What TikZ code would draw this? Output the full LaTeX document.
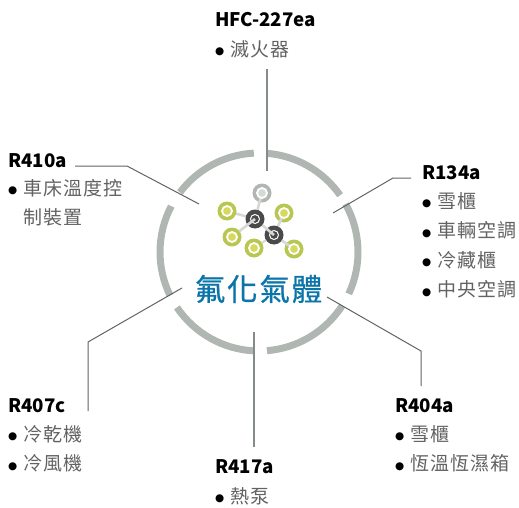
\documentclass[tikz,border=0pt]{standalone}
\usepackage{fontspec}
\setmainfont{Noto Sans CJK TC}
\newfontfamily\listfont{Noto Sans CJK TC}[LetterSpace=6]
\newfontfamily\titlefont{Noto Sans CJK TC}[LetterSpace=6, FakeBold=0.7]
\newfontfamily\dotfont{DejaVu Sans}
\usetikzlibrary{positioning}
\definecolor{ringgray}{HTML}{B0B7B3}
\definecolor{leadgray}{HTML}{5F6563}
\definecolor{stemgray}{HTML}{848B88}
\definecolor{textgray}{HTML}{626262}
\definecolor{titleblue}{HTML}{0B75AA}
\definecolor{atomgreen}{HTML}{B7C752}
\definecolor{atomyellow}{HTML}{D8D85E}
\definecolor{atomdark}{HTML}{4A4A4A}
\definecolor{bondgray}{HTML}{D6D8D6}
\newcommand{\itm}{\makebox[15pt][l]{\color{black}\raisebox{1.5pt}{\dotfont\fontsize{10.5pt}{10.5pt}\selectfont ●}}}
\tikzset{
  head/.style={anchor=base west, inner sep=0pt, font=\fontsize{18.7pt}{18.7pt}\selectfont\bfseries, text=black},
  items/.style={anchor=north west, inner sep=0pt, align=left, yshift=-13pt, text=textgray,
    font=\listfont\fontsize{19pt}{29.5pt}\selectfont},
  ringarc/.style={draw=ringgray, line width=7pt},
  lead/.style={draw=leadgray, line width=1pt},
  stem/.style={draw=stemgray, line width=1.4pt},
  atom/.style={circle, inner sep=0pt, minimum size=19pt},
  green/.style={atom, fill=atomgreen},
  dark/.style={atom, fill=atomdark},
  pale/.style={atom, fill=ringgray},
  core/.style={circle, inner sep=0pt, minimum size=10pt, draw=white, line width=1.8pt},
  darkcore/.style={circle, inner sep=0pt, minimum size=9pt, fill=atomdark, draw=white, line width=1pt},
  bond/.style={draw=bondgray, line width=2.6pt}
}
\begin{document}
\begin{tikzpicture}[x=1pt, y=-1pt]
\useasboundingbox (0,0) rectangle (519,508);
\coordinate (c) at (259,252);
\draw[ringarc] (c) ++(85.4:99pt) arc[start angle=85.4, end angle=35, radius=99pt];
\draw[ringarc] (c) ++(29:99pt) arc[start angle=29, end angle=-25, radius=99pt];
\draw[ringarc] (c) ++(-33:99pt) arc[start angle=-33, end angle=-85.4, radius=99pt];
\draw[ringarc] (c) ++(-93:99pt) arc[start angle=-93, end angle=-146, radius=99pt];
\draw[ringarc] (c) ++(206:99pt) arc[start angle=206, end angle=152.4, radius=99pt];
\draw[ringarc] (c) ++(143:99pt) arc[start angle=143, end angle=93, radius=99pt];

% labels
\node[head] (hfc) at (215,27) {HFC-227ea};
\node[items] (hfcuse) at (hfc.base west) {\itm 滅火器};
\node[head] (r410) at (8,167) {R410a};
\node[items, yshift=1pt] (r410use) at (r410.base west) {\itm 車床溫度控\\\hspace{15pt}制裝置};
\node[head] (r134) at (422,179) {R134a};
\node[items] (r134use) at (r134.base west) {\itm 雪櫃\\\itm 車輛空調\\\itm 冷藏櫃\\\itm 中央空調};
\node[head] (r407) at (8,412) {R407c};
\node[items] (r407use) at (r407.base west) {\itm 冷乾機\\\itm 冷風機};
\node[head] (r417) at (215,473) {R417a};
\node[items, yshift=-1pt] (r417use) at (r417.base west) {\itm 熱泵};
\node[head] (r404) at (395,412) {R404a};
\node[items] (r404use) at (r404.base west) {\itm 雪櫃\\\itm 恆溫恆濕箱};
\node[text=titleblue, inner sep=0pt, font=\titlefont\fontsize{30.5pt}{30.5pt}\selectfont] (title) at (258.5,289) {氟化氣體};

% lead lines
\coordinate (hfcin) at (267,171);
\coordinate (hfcout) at (267,69);
\coordinate (r410a) at (75,166);
\coordinate (r410b) at (127,166);
\coordinate (r410c) at (199,204);
\coordinate (r134a) at (411,178);
\coordinate (r134b) at (393,178);
\coordinate (r134c) at (333,213);
\coordinate (r404a) at (327,297);
\coordinate (r404b) at (421,351);
\coordinate (r404c) at (421,386);
\coordinate (r417a) at (254,332);
\coordinate (r417b) at (254,447);
\coordinate (r407a) at (182,288);
\coordinate (r407b) at (88,342);
\coordinate (r407c) at (88,411);
\draw[stem] (hfcout) -- (hfcin);
\draw[lead] (r410a) -- (r410b) -- (r410c);
\draw[lead] (r134a) -- (r134b) -- (r134c);
\draw[lead] (r404a) -- (r404b) -- (r404c);
\draw[stem] (r417a) -- (r417b);
\draw[lead] (r407a) -- (r407b) -- (r407c);

% molecule
\coordinate (d1) at (255,219);
\coordinate (g1) at (227,211);
\draw[bond] (d1) -- (g1);
\node[pale] (top) at (262,193) {};
\node[green] (left) at (g1) {};
\node[green] (low) at (232,237) {};
\node[green] (bot) at (254,248) {};
\node[green] (upr) at (284,213) {};
\node[green] (lwr) at (294,249) {};
\node[dark] (c1) at (d1) {};
\node[dark] (c2) at (274,235) {};
\node[darkcore] (c1c) at (c1) {};
\node[darkcore] (c2c) at (c2) {};
\draw[bond] (top.center) -- (c1);
\draw[bond] (low) -- (c1.center);
\draw[bond] (c1) -- (c2.center);
\draw[bond] (upr.center) -- (c2);
\draw[bond] (lwr.center) -- (c2);
\draw[bond, line width=2pt] (bot) -- (c2);
\node[core, fill=bondgray] (topc) at (top) {};
\node[core, fill=atomyellow] (leftc) at (left) {};
\node[core, fill=atomyellow] (lowc) at (low) {};
\node[core, fill=atomyellow] (botc) at (bot) {};
\node[core, fill=atomyellow] (uprc) at (upr) {};
\node[core, fill=atomyellow] (lwrc) at (lwr) {};
\end{tikzpicture}
\end{document}
